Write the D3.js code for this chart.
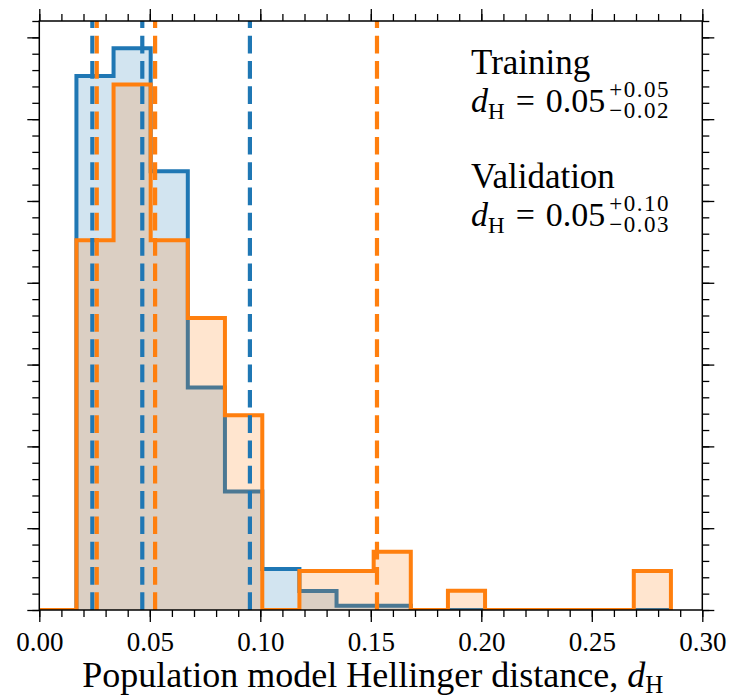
<!DOCTYPE html>
<html>
<head>
<meta charset="utf-8">
<script src="https://cdn.jsdelivr.net/npm/d3@7"></script>
<style>
  body { margin: 0; background: #fff; }
  svg { display: block; font-family: "Liberation Serif", "DejaVu Serif", serif; }
</style>
</head>
<body>
<svg id="chart" width="730" height="697"></svg>
<script>
// bins are shared by both histograms (edges)
var binEdges = [0, 0.0168, 0.0336, 0.0504, 0.0672, 0.0840, 0.1009, 0.1177, 0.1345,
                0.1513, 0.1681, 0.1849, 0.2017, 0.2185, 0.2353, 0.2522, 0.2690, 0.2858];
// density per bin
var trainDensity = [0, 16.32, 17.17, 13.41, 6.80, 3.62, 1.25, 0.58, 0.13, 0.13, 0, 0, 0, 0, 0, 0, 0];
var validDensity = [0, 11.30, 16.06, 11.30, 8.92, 5.95, 0, 1.19, 1.19, 1.78, 0, 0.59, 0, 0, 0, 0, 1.19];
// percentile markers (dashed lines)
var trainLines = [0.0240, 0.0466, 0.0953];
var validLines = [0.0260, 0.0524, 0.1528];
// axis
var xTicks = [0, 0.05, 0.10, 0.15, 0.20, 0.25, 0.30];
var xTickLabels = ["0.00", "0.05", "0.10", "0.15", "0.20", "0.25", "0.30"];
var yMax = 18;
// annotation texts
var statTitles = ["Training", "Validation"];
var statPlus = ["+0.05", "+0.10"];
var statMinus = ["\u22120.02", "\u22120.03"];

var blue = "#1f77b4", orange = "#ff7f0e";
// (pas "top" : window.top existe deja)
var mLeft = 39.3, mRight = 702.3, mTop = 21, mBottom = 610;

var svg = d3.select("#chart");
var x = d3.scaleLinear().domain([0, 0.30]).range([mLeft, mRight]);
var y = d3.scaleLinear().domain([0, yMax]).range([mBottom, mTop]);

svg.append("clipPath").attr("id", "plotclip")
  .append("rect")
  .attr("x", mLeft).attr("y", mTop)
  .attr("width", mRight - mLeft).attr("height", mBottom - mTop);

var plot = svg.append("g").attr("clip-path", "url(#plotclip)");

//outline of a step histogram, like matplotlib does it
function stepPoints(dens){
  var pts = [[binEdges[0], 0]];
  dens.forEach(function(d, i){
    pts.push([binEdges[i], d]);
    pts.push([binEdges[i + 1], d]);
  });
  pts.push([binEdges[binEdges.length - 1], 0]);
  return pts;
}

var line = d3.line()
  .x(function(d){ return x(d[0]); })
  .y(function(d){ return y(d[1]); });

function drawHist(dens, color){
  var pts = stepPoints(dens);
  plot.append("path")
    .attr("d", line(pts) + "Z")
    .attr("fill", color)
    .attr("fill-opacity", 0.2)
    .attr("stroke", "none");
  plot.append("path")
    .attr("d", line(pts))
    .attr("fill", "none")
    .attr("stroke", color)
    .attr("stroke-width", 4)
    .attr("stroke-linejoin", "miter");
}

drawHist(trainDensity, blue);
drawHist(validDensity, orange);

function drawLines(vals, color){
  plot.selectAll(null)
    .data(vals)
    .enter().append("line")
    .attr("x1", function(d){ return x(d); })
    .attr("x2", function(d){ return x(d); })
    .attr("y1", y(0))   // dash pattern starts at the bottom
    .attr("y2", y(yMax))
    .attr("stroke", color)
    .attr("stroke-width", 4.2)
    .attr("stroke-dasharray", "17.7 7.6");
}
drawLines(trainLines, blue);
drawLines(validLines, orange);

// ticks on all 4 sides, pointing out
var xMinor = d3.range(0, 0.3001, 0.01);
var yMajor = d3.range(0, 17.51, 2.5);
var yMinor = d3.range(0, 18.01, 0.5);

function addAxis(axis, tx, ty){
  var g = svg.append("g")
    .attr("transform", "translate(" + tx + "," + ty + ")")
    .call(axis);
  g.select(".domain").remove();
  g.selectAll(".tick line").attr("stroke", "#000").attr("stroke-width", 1.3);
  return g;
}

var xAxis = addAxis(d3.axisBottom(x).tickValues(xTicks).tickSize(12).tickPadding(10)
  .tickFormat(function(d, i){ return xTickLabels[i]; }), 0, mBottom);
xAxis.selectAll("text")
  .attr("font-family", "Liberation Serif, DejaVu Serif, serif")
  .attr("font-size", 27)
  .attr("fill", "#000");

addAxis(d3.axisBottom(x).tickValues(xMinor).tickSize(7).tickFormat(""), 0, mBottom);
addAxis(d3.axisTop(x).tickValues(xTicks).tickSize(12).tickFormat(""), 0, mTop);
addAxis(d3.axisTop(x).tickValues(xMinor).tickSize(7).tickFormat(""), 0, mTop);
addAxis(d3.axisLeft(y).tickValues(yMajor).tickSize(12).tickFormat(""), mLeft, 0);
addAxis(d3.axisLeft(y).tickValues(yMinor).tickSize(7).tickFormat(""), mLeft, 0);
addAxis(d3.axisRight(y).tickValues(yMajor).tickSize(12).tickFormat(""), mRight, 0);
addAxis(d3.axisRight(y).tickValues(yMinor).tickSize(7).tickFormat(""), mRight, 0);

svg.append("rect")
  .attr("x", mLeft).attr("y", mTop)
  .attr("width", mRight - mLeft).attr("height", mBottom - mTop)
  .attr("fill", "none")
  .attr("stroke", "#000")
  .attr("stroke-width", 1.5);

// x label
var xl = svg.append("text")
  .attr("x", (mLeft + mRight) / 2 + 2)
  .attr("y", 687)
  .attr("text-anchor", "middle")
  .attr("font-size", 36);
xl.append("tspan").text("Population model Hellinger distance, ");
xl.append("tspan").attr("font-style", "italic").text("d");
xl.append("tspan").attr("font-size", 25).attr("dy", 6).text("H");

// stats text in the top right
function statBlock(i, y0){
  var tx = 471;
  svg.append("text").attr("x", tx).attr("y", y0).attr("font-size", 35).text(statTitles[i]);
  var t = svg.append("text").attr("x", tx).attr("y", y0 + 38).attr("font-size", 34);
  t.append("tspan").attr("font-style", "italic").text("d");
  t.append("tspan").attr("font-size", 23).attr("dy", 7).text("H");
  t.append("tspan").attr("dy", -7).attr("dx", 11).text("=");
  t.append("tspan").attr("dx", 11).text("0.05");
  var bb = t.node().getBBox();
  var sx = bb.x + bb.width + 4;
  svg.append("text").attr("x", sx).attr("y", y0 + 38 - 15)
    .attr("font-size", 23).attr("letter-spacing", 1.5).text(statPlus[i]);
  svg.append("text").attr("x", sx).attr("y", y0 + 38 + 6)
    .attr("font-size", 23).attr("letter-spacing", 1.5).text(statMinus[i]);
}
statBlock(0, 74);
statBlock(1, 188);
</script>
</body>
</html>
